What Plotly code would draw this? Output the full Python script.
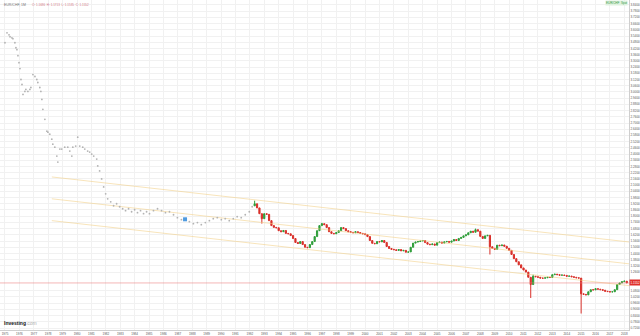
import plotly.graph_objects as go

# ---------------- data ----------------
# early history (monthly line, drawn as small grey dots)
early_years = [1975.00, 1975.14, 1975.28, 1975.35, 1975.48, 1975.55, 1975.69, 1975.76, 1975.83, 1975.90,
               1975.97, 1976.04, 1976.11, 1976.18, 1976.25, 1976.38, 1976.45, 1976.59, 1976.73, 1976.80,
               1976.94, 1977.08, 1977.21, 1977.28, 1977.42, 1977.49, 1977.56, 1977.63, 1977.77, 1977.91,
               1977.98, 1978.11, 1978.25, 1978.32, 1978.46, 1978.60, 1978.67, 1978.81, 1978.94, 1979.15,
               1979.36, 1979.50, 1979.64, 1979.71, 1979.91, 1980.05, 1980.19, 1980.40, 1980.54, 1980.74,
               1980.88, 1981.02, 1981.16, 1981.37, 1981.44, 1981.57, 1981.71, 1981.85, 1981.99, 1982.13,
               1982.34, 1982.54, 1982.75, 1982.96, 1983.17, 1983.37, 1983.58, 1983.79, 1984.00, 1984.20,
               1984.41, 1984.62, 1984.83, 1985.03, 1985.31, 1985.59, 1985.87, 1986.14, 1986.42, 1986.70,
               1986.97, 1987.25, 1987.53, 1987.80, 1988.08, 1988.36, 1988.63, 1988.91, 1989.19, 1989.46,
               1989.74, 1990.02, 1990.29, 1990.57, 1990.85, 1991.12, 1991.40, 1991.68, 1991.96, 1992.16]
early_vals = [3.475, 3.571, 3.552, 3.533, 3.523, 3.514, 3.475, 3.427, 3.408, 3.350,
              3.283, 3.226, 3.120, 3.072, 2.976, 3.005, 3.024, 3.005, 3.024, 3.043,
              3.168, 3.149, 3.120, 3.091, 3.043, 3.005, 2.928, 2.832, 2.736, 2.621,
              2.611, 2.592, 2.544, 2.496, 2.467, 2.381, 2.323, 2.448, 2.448, 2.467,
              2.467, 2.429, 2.381, 2.467, 2.477, 2.563, 2.477, 2.467, 2.448, 2.429,
              2.419, 2.400, 2.381, 2.352, 2.285, 2.237, 2.160, 2.083, 2.016, 1.968,
              1.939, 1.901, 1.920, 1.891, 1.872, 1.853, 1.872, 1.843, 1.862, 1.834,
              1.853, 1.824, 1.843, 1.824, 1.853, 1.872, 1.853, 1.834, 1.843, 1.814,
              1.786, 1.766, 1.776, 1.747, 1.728, 1.738, 1.718, 1.738, 1.757, 1.776,
              1.786, 1.766, 1.776, 1.757, 1.776, 1.795, 1.786, 1.814, 1.843, 1.891]

# candles: two-month bars starting May 1992
candle_start = 1992.333
candle_first_open = 1.900
candle_closes = [
    1.920, 1.880, 1.824, 1.776, 1.824, 1.818, 1.757, 1.709, 1.692, 1.688,
    1.660, 1.650, 1.662, 1.634, 1.630, 1.613, 1.584, 1.546, 1.536, 1.555,
    1.526, 1.500, 1.496, 1.526, 1.555, 1.603, 1.660, 1.709, 1.728, 1.718,
    1.690, 1.650, 1.634, 1.630, 1.642, 1.660, 1.690, 1.680, 1.660, 1.650,
    1.644, 1.640, 1.650, 1.642, 1.634, 1.630, 1.622, 1.603, 1.565, 1.538,
    1.534, 1.555, 1.552, 1.565, 1.546, 1.507, 1.488, 1.480, 1.476, 1.469,
    1.478,
    1.465, 1.470, 1.452,
    1.455, 1.500, 1.540, 1.550, 1.555, 1.560,
    1.565, 1.545, 1.530, 1.525, 1.532, 1.520,
    1.545, 1.550, 1.540, 1.552, 1.556, 1.549,
    1.560, 1.575, 1.565, 1.585, 1.595, 1.610,
    1.620, 1.640, 1.655, 1.645, 1.670, 1.655,
    1.605, 1.585, 1.610, 1.615, 1.505, 1.490,
    1.480, 1.520, 1.515, 1.522, 1.510, 1.490,
    1.470, 1.430, 1.390, 1.360, 1.330, 1.300,
    1.280, 1.260, 1.210, 1.140, 1.220, 1.215,
    1.210, 1.202, 1.201, 1.205, 1.210, 1.208,
    1.235, 1.240, 1.235, 1.230, 1.232, 1.228,
    1.220, 1.222, 1.215, 1.210, 1.205, 1.202,
    1.050, 1.045, 1.040, 1.070, 1.090, 1.088,
    1.100, 1.095, 1.090, 1.085, 1.075, 1.072,
    1.068, 1.070, 1.090, 1.140, 1.155, 1.168,
    1.172, 1.155,
]
wick_highs = {0: 1.950, 116: 1.235, 154: 1.178, 28: 1.735, 92: 1.680}
wick_lows = {3: 1.728, 98: 1.430, 115: 1.010, 136: 0.860}

# trend channel (start/end points)
channel_years = [1978.253, 2018.322]
channel_upper = [2.179, 1.551]
channel_middle = [1.968, 1.340]
channel_lower = [1.757, 1.129]

last_price = 1.1552
marker_year, marker_val = 1987.5, 1.77

year_ticks = list(range(1975, 2019))
y_ticks = [round(0.72 + 0.06 * i, 4) for i in range(53)]

# ---------------- figure ----------------
n = len(candle_closes)
cx = [candle_start + k / 6 for k in range(n)]
opens = [candle_first_open] + candle_closes[:-1]
highs = [max(o, c) for o, c in zip(opens, candle_closes)]
lows = [min(o, c) for o, c in zip(opens, candle_closes)]
for k, v in wick_highs.items():
    highs[k] = v
for k, v in wick_lows.items():
    lows[k] = v

fig = go.Figure()

for vals in (channel_upper, channel_middle, channel_lower):
    fig.add_trace(go.Scatter(x=channel_years, y=vals, mode="lines",
                             line=dict(color="rgba(242,205,130,0.55)", width=1), hoverinfo="skip"))

fig.add_trace(go.Scatter(x=early_years, y=early_vals, mode="markers",
                         marker=dict(color="#b3b3b3", size=1.8), hoverinfo="skip"))

fig.add_trace(go.Candlestick(x=cx, open=opens, high=highs, low=lows, close=candle_closes,
                             increasing=dict(line=dict(color="#2f9e3a", width=1), fillcolor="#2f9e3a"),
                             decreasing=dict(line=dict(color="#d9302a", width=1), fillcolor="#d9302a"),
                             whiskerwidth=0))

fig.add_trace(go.Scatter(x=[marker_year], y=[marker_val], mode="markers",
                         marker=dict(color="#4f9be0", size=4, symbol="square"), hoverinfo="skip"))

fig.add_hline(y=last_price, line=dict(color="rgba(235,120,120,0.55)", width=1))

shown_y_ticks = [v for v in y_ticks if abs(v - last_price) > 0.045]

fig.update_layout(
    width=640, height=336,
    margin=dict(l=0, r=10, t=0, b=4),
    paper_bgcolor="white", plot_bgcolor="white",
    showlegend=False,
    xaxis=dict(range=[1974.654, 2018.322], tickvals=year_ticks, ticktext=[str(y) for y in year_ticks],
               showgrid=True, gridcolor="#f1f1f1", gridwidth=1, rangeslider=dict(visible=False),
               tickfont=dict(size=3, color="#555"), ticks="", zeroline=False,
               showline=True, linecolor="#cfcfcf"),
    yaxis=dict(range=[0.7008, 3.888], side="right", tickvals=shown_y_ticks,
               ticktext=[f"{v:.4f}" for v in shown_y_ticks],
               showgrid=True, gridcolor="#f1f1f1", gridwidth=1,
               tickfont=dict(size=3, color="#555"), ticks="", zeroline=False,
               showline=True, linecolor="#cfcfcf"),
    font=dict(family="Arial, Liberation Sans, sans-serif"),
)

fig.add_annotation(x=0.003, y=0.998, xref="paper", yref="paper", xanchor="left", yanchor="top",
                   text="EUR/CHF, 1M", showarrow=False, font=dict(size=3.5, color="#777"))
fig.add_annotation(x=0.047, y=0.998, xref="paper", yref="paper", xanchor="left", yanchor="top",
                   text="O: 1.1686  H: 1.1713  L: 1.1535  C: 1.1552", showarrow=False,
                   font=dict(size=3, color="#d47a86"))
fig.add_annotation(x=0.003, y=0.006, xref="paper", yref="paper", xanchor="left", yanchor="bottom",
                   text="<b>Investing</b><span style='color:#aaa'>.com</span>", showarrow=False,
                   font=dict(size=5, color="#111"))
fig.add_annotation(x=1.0, y=last_price, xref="paper", yref="y", xanchor="left", yanchor="middle",
                   text=f"{last_price:.4f}", showarrow=False, bgcolor="#e0302c",
                   font=dict(size=3, color="white"), borderpad=0.5)
fig.add_annotation(x=0.999, y=0.999, xref="paper", yref="paper", xanchor="right", yanchor="top",
                   text="EUR/CHF  Spot", showarrow=False, bgcolor="#dff2df",
                   font=dict(size=3, color="#3a9a4a"), borderpad=0)

fig.write_html("out.html")
